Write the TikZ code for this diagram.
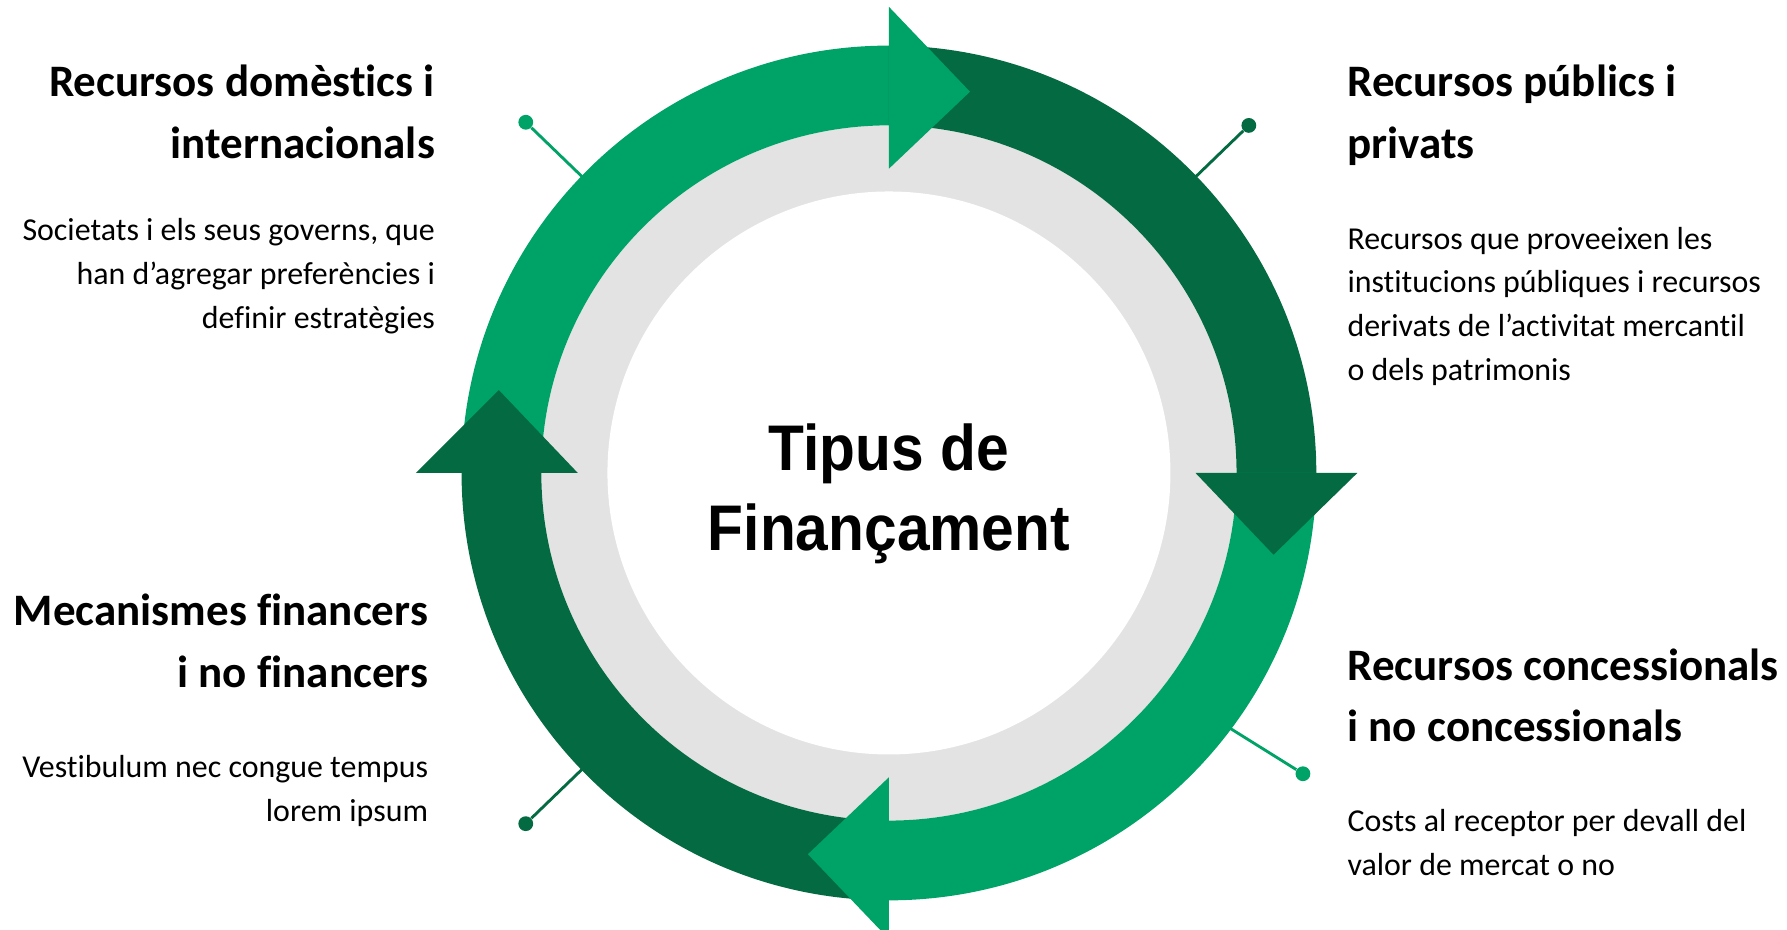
\documentclass[tikz,border=0pt]{standalone}
\usepackage{fontspec}
\setmainfont{Carlito}[Ligatures=NoCommon]
\newfontfamily\titlefont{Liberation Sans}
\usetikzlibrary{positioning}
\definecolor{lightgreen}{HTML}{00A367}
\definecolor{darkgreen}{HTML}{036A41}
\definecolor{ringgrey}{HTML}{E3E3E3}

\begin{document}
\begin{tikzpicture}[x=0.5pt, y=0.5pt,
    heading/.style={font=\fontsize{19.75}{27}\selectfont\bfseries, inner sep=0},
    body/.style={font=\fontsize{14}{19.25}\selectfont, inner sep=0},
    dot/.style={circle, fill=#1, inner sep=0, minimum size=6.5pt},
    stem/.style={#1, line width=1.25pt}]
    \useasboundingbox (-780,-401) rectangle (788,415);

    \fill[ringgrey] (0,0) circle[radius=305];
    \fill[white] (0,0) circle[radius=247];

    \coordinate (r1) at (136:360);
    \coordinate (r2) at (44:360);
    \coordinate (r3) at (-37:360);
    \coordinate (r4) at (-136:360);
    \node[dot=lightgreen] (d1) at (136:443) {};
    \node[dot=darkgreen] (d2) at (44:439) {};
    \node[dot=lightgreen] (d3) at (-36:449) {};
    \node[dot=darkgreen] (d4) at (-136:443) {};
    \draw[stem=lightgreen] (r1) -- (d1);
    \draw[stem=darkgreen] (r2) -- (d2);
    \draw[stem=lightgreen] (r3) -- (d3);
    \draw[stem=darkgreen] (r4) -- (d4);

    \fill[lightgreen] (180:375) arc[start angle=180, end angle=90, radius=375]
        -- (90:305) arc[start angle=90, end angle=180, radius=305] -- cycle;
    \fill[darkgreen] (90:375) arc[start angle=90, end angle=0, radius=375]
        -- (0:305) arc[start angle=0, end angle=90, radius=305] -- cycle;
    \fill[lightgreen] (0:375) arc[start angle=0, end angle=-90, radius=375]
        -- (-90:305) arc[start angle=-90, end angle=0, radius=305] -- cycle;
    \fill[darkgreen] (-90:375) arc[start angle=-90, end angle=-180, radius=375]
        -- (-180:305) arc[start angle=-180, end angle=-90, radius=305] -- cycle;

    \fill[lightgreen] (90:267) -- (90:409) -- (78:342) -- cycle;
    \fill[darkgreen] (0:269) -- (0:411) -- (-12:345) -- cycle;
    \fill[lightgreen] (-90:267) -- (-90:409) -- (-102:342) -- cycle;
    \fill[darkgreen] (180:273) -- (180:415) -- (168:350) -- cycle;

    \node[anchor=base, align=center, inner sep=0, xscale=0.91, transform shape,
        font=\titlefont\bfseries\fontsize{28.3}{35}\selectfont] (title) at (0,-68)
        {Tipus de\\Finançament};

    \node[heading, anchor=base east, align=right] (h1) at (-398,276)
        {Recursos domèstics i\\internacionals};
    \node[body, anchor=base east, align=right] (b1) at (-398,127)
        {Societats i els seus governs, que\\han d’agregar preferències i\\definir estratègies};

    \node[heading, anchor=base west, align=left] (h2) at (402,276)
        {Recursos públics i\\privats};
    \node[body, anchor=base west, align=left] (b2) at (402,81)
        {Recursos que proveeixen les\\institucions públiques i recursos\\derivats de l’activitat mercantil\\o dels patrimonis};

    \node[heading, anchor=base east, align=right] (h3) at (-404,-188)
        {Mecanismes financers\\i no financers};
    \node[body, anchor=base east, align=right] (b3) at (-404,-306)
        {Vestibulum nec congue tempus\\lorem ipsum};

    \node[heading, anchor=base west, align=left] (h4) at (402,-236)
        {Recursos concessionals\\i no concessionals};
    \node[body, anchor=base west, align=left] (b4) at (402,-353)
        {Costs al receptor per devall del\\valor de mercat o no};
\end{tikzpicture}
\end{document}
